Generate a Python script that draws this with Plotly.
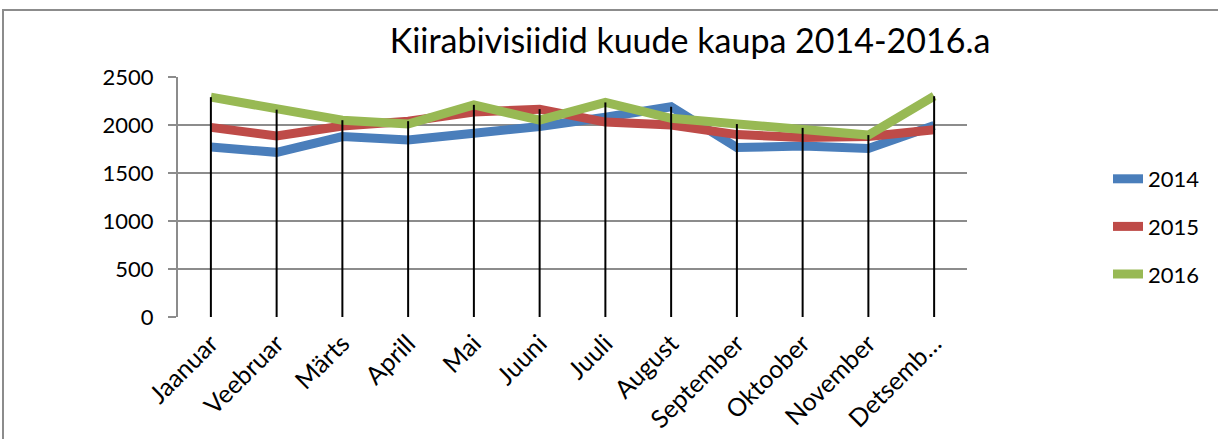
import plotly.graph_objects as go

months = ["Jaanuar", "Veebruar", "Märts", "Aprill", "Mai", "Juuni", "Juuli",
          "August", "September", "Oktoober", "November", "Detsemb…"]
y2014 = [1770, 1715, 1880, 1845, 1915, 1985, 2080, 2190, 1765, 1780, 1755, 1995]
y2015 = [1975, 1885, 1990, 2040, 2135, 2165, 2030, 2000, 1900, 1870, 1880, 1950]
y2016 = [2290, 2160, 2050, 2010, 2210, 2050, 2235, 2070, 2010, 1970, 1895, 2300]
series = [("2014", y2014, "#4A7EBB"), ("2015", y2015, "#BE4B48"), ("2016", y2016, "#98B954")]
y_ticks = [0, 500, 1000, 1500, 2000, 2500]

FONT = "Lato"
fig = go.Figure()
for i, (name, vals, col) in enumerate(series):
    fig.add_trace(go.Scatter(x=months, y=vals, mode="lines", name=name,
                             legendgroup=name,
                             line=dict(color=col, width=9)))

# drop lines from axis to highest point
dx, dy = [], []
for m, a, b, c in zip(months, y2014, y2015, y2016):
    dx += [m, m, None]
    dy += [0, max(a, b, c), None]
fig.add_trace(go.Scatter(x=dx, y=dy, mode="lines", showlegend=False,
                         line=dict(color="black", width=2), hoverinfo="skip"))

L, R, T, B = 178, 967, 77, 317
W, H = 1218, 439
fig.update_layout(
    width=W, height=H,
    margin=dict(l=L, r=W - R, t=T, b=H - B, autoexpand=False),
    paper_bgcolor="white", plot_bgcolor="white",
    font=dict(family=FONT, size=22, color="black"),
    title=dict(text="Kiirabivisiidid kuude kaupa 2014-2016.a",
               font=dict(family=FONT, size=34, color="black"),
               x=(690) / W, xanchor="center", y=1 - 41 / H, yanchor="middle"),
    showlegend=True,
    legend=dict(x=(1108 - L) / (R - L), xanchor="left",
                y=(B - 158) / (B - T), yanchor="top",
                font=dict(family=FONT, size=22, color="black"),
                tracegroupgap=16, bgcolor="rgba(0,0,0,0)"),
    xaxis=dict(type="category", range=[-0.5, 11.5], tickangle=-45,
               showgrid=False, showline=False, ticks="", zeroline=False,
               automargin=False, ticklabelstandoff=6,
               tickfont=dict(family=FONT, size=25)),
    yaxis=dict(range=[0, 2500], tickvals=y_ticks, showgrid=True,
               gridcolor="#8C8C8C", gridwidth=2, showline=True, linecolor="#8C8C8C",
               linewidth=2, ticks="outside", ticklen=8, tickcolor="#8C8C8C",
               tickwidth=2, zeroline=False, ticklabelstandoff=10, automargin=False,
               tickfont=dict(family=FONT, size=22)),
    shapes=[dict(type="rect", xref="paper", yref="paper",
                 x0=(3 - L) / (R - L), x1=(W + 20 - L) / (R - L),
                 y0=(B - (H + 20)) / (B - T), y1=(B - 10) / (B - T),
                 line=dict(color="#8C8C8C", width=2), fillcolor="rgba(0,0,0,0)",
                 layer="below")],
)
fig.write_html("out.html", config={"displayModeBar": False},
               post_script="document.body.style.margin='0px';document.body.style.overflow='hidden';")
